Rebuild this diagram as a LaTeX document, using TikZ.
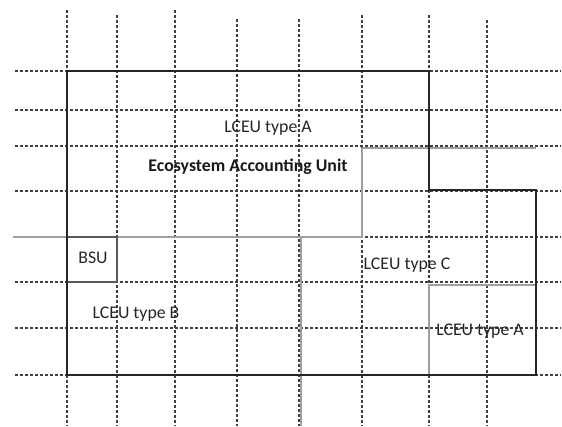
\documentclass[tikz,border=0pt]{standalone}
\usepackage{fontspec}
\setmainfont{Carlito}
\tikzset{
  gridline/.style={black!75, line width=1.1pt, dash pattern=on 3pt off 2pt},
  outline/.style={black!85, line width=2.2pt, line join=miter},
  zone/.style={black!38, line width=2.8pt},
  bsubox/.style={black!65, line width=1.3pt},
  lbl/.style={font=\fontsize{17.8}{20}\selectfont, text=black!85, inner sep=0pt},
  blbl/.style={font=\fontsize{17.8}{20}\selectfont\bfseries, text=black!90, inner sep=0pt}
}
\begin{document}
\begin{tikzpicture}[x=1pt,y=-1pt]
\useasboundingbox (0,0) rectangle (562,426);
% grid
\foreach \y in {71,110,146,191,237,282,328,375}
  \draw[gridline] (15,\y) -- (561,\y);
\foreach \x/\t in {67/10,117/15,175/10,237/19,299/19,362/15,429/15,487/20}
  \draw[gridline] (\x,\t) -- (\x,426);
% grey zone boundaries
\draw[zone] (362,148) -- (536,148);
\draw[zone] (13,237) -- (362,237) -- (362,148);
\draw[zone] (301,237) -- (301,426);
\draw[zone] (536,285) -- (429,285) -- (429,375);
% BSU box
\draw[bsubox] (67,237) rectangle (117,282);
% outline of the accounting unit
\draw[outline] (67,71) -- (429,71) -- (429,190) -- (536,190) -- (536,375) -- (67,375) -- cycle;
% labels
\node[lbl] (a1) at (268,128) {LCEU type A};
\node[blbl] (eau) at (248,167) {Ecosystem Accounting Unit};
\node[lbl] (bsu) at (93,258) {BSU};
\node[lbl] (b) at (136,314) {LCEU type B};
\node[lbl] (c) at (407,265) {LCEU type C};
\node[lbl] (a2) at (480,331) {LCEU type A};
\end{tikzpicture}
\end{document}
